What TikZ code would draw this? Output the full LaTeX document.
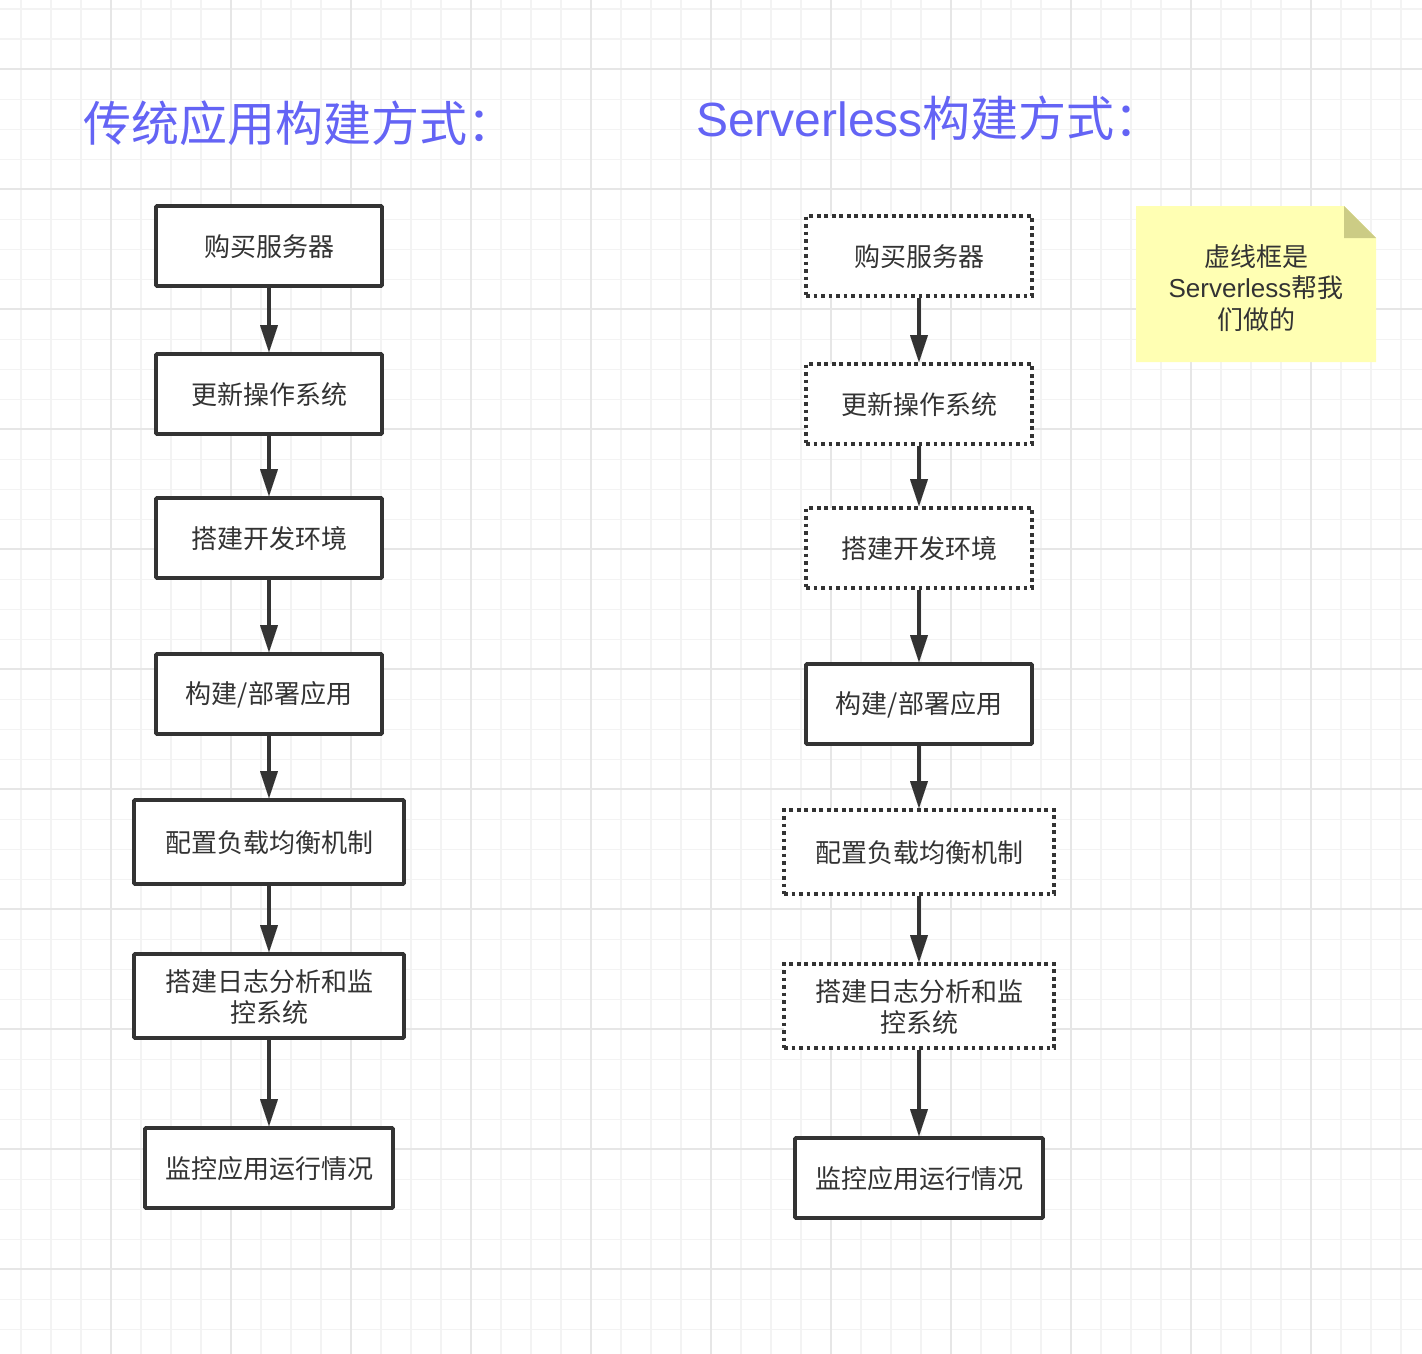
\documentclass[tikz,border=0pt]{standalone}
\usepackage{fontspec}
\setmainfont{Noto Sans CJK SC}
\newfontfamily\lat{Liberation Sans}
\usetikzlibrary{arrows.meta}
\definecolor{ink}{HTML}{333333}
\definecolor{titleblue}{HTML}{6464F5}
\definecolor{gridminor}{HTML}{F3F3F3}
\definecolor{gridmajor}{HTML}{E6E6E6}
\definecolor{notefill}{HTML}{FFFFB3}
\definecolor{notefold}{HTML}{CCCC85}
\newcommand\lstr{\rule[-2pt]{0pt}{26pt}}
\begin{document}
\begin{tikzpicture}[x=1pt,y=-1pt,
  box/.style={draw=ink, line width=3.8pt, fill=white, rounded corners=1pt,
    inner sep=0pt, text=ink, font=\fontsize{26}{31.2}\selectfont, align=center,
    minimum height=80pt},
  dotbox/.style={box, dash pattern=on 3.6pt off 3.9pt, rounded corners=0pt},
  flow/.style={draw=ink, line width=3.6pt, -{Triangle[width=18pt,length=27pt,line width=0.01pt]}},
  title/.style={anchor=base west, inner sep=0pt, text=titleblue, font=\fontsize{48}{58}\selectfont},
  notetext/.style={inner sep=0pt, text=ink, font=\fontsize{26}{31.2}\selectfont, align=center},
  minorline/.style={draw=gridminor, line width=1.6pt},
  majorline/.style={draw=gridmajor, line width=1.8pt}
]
\useasboundingbox (0,0) rectangle (1422,1354);
\fill[white] (0,0) rectangle (1422,1354);
% grid
\foreach \i in {0,...,47} \draw[minorline] ({20.7+30*\i},0) -- ++(0,1354);
\foreach \i in {0,...,45} \draw[minorline] (0,{9.3+30*\i}) -- ++(1422,0);
\foreach \i in {0,...,10} \draw[majorline] ({110.7+120*\i},0) -- ++(0,1354);
\foreach \i in {0,...,10} \draw[majorline] (0,{69.3+120*\i}) -- ++(1422,0);

% titles
\node[title] (t1) at (83,141) {传统应用构建方式：};
\node[title] (t2) at (696,136) {{\lat Serverless}构建方式：};

% left column
\node[box, minimum width=226pt] (l1) at (269,246) {\lstr 购买服务器};
\node[box, minimum width=226pt] (l2) at (269,394) {\lstr 更新操作系统};
\node[box, minimum width=226pt] (l3) at (269,538) {\lstr 搭建开发环境};
\node[box, minimum width=226pt] (l4) at (269,694) {\lstr 构建/部署应用};
\node[box, minimum width=270pt, minimum height=84pt] (l5) at (269,842) {\lstr 配置负载均衡机制};
\node[box, minimum width=270pt, minimum height=84pt] (l6) at (269,996) {\lstr 搭建日志分析和监\\\lstr 控系统};
\node[box, minimum width=248pt] (l7) at (269,1168) {\lstr 监控应用运行情况};

% right column
\node[dotbox, minimum width=226pt] (r1) at (919,256) {\lstr 购买服务器};
\node[dotbox, minimum width=226pt] (r2) at (919,404) {\lstr 更新操作系统};
\node[dotbox, minimum width=226pt] (r3) at (919,548) {\lstr 搭建开发环境};
\node[box, minimum width=226pt] (r4) at (919,704) {\lstr 构建/部署应用};
\node[dotbox, minimum width=270pt, minimum height=84pt] (r5) at (919,852) {\lstr 配置负载均衡机制};
\node[dotbox, minimum width=270pt, minimum height=84pt] (r6) at (919,1006) {\lstr 搭建日志分析和监\\\lstr 控系统};
\node[box, minimum width=248pt] (r7) at (919,1178) {\lstr 监控应用运行情况};

% connectors
\foreach \a/\b in {l1/l2,l2/l3,l3/l4,l4/l5,l5/l6,l6/l7,r1/r2,r2/r3,r3/r4,r4/r5,r5/r6,r6/r7}
  \draw[flow] (\a.south) -- (\b.north);

% note
\fill[notefill] (1136,206) -- (1344,206) -- (1376,238) -- (1376,362) -- (1136,362) -- cycle;
\fill[notefold] (1344,206) -- (1344,238) -- (1376,238) -- cycle;
\node[notetext] (note) at (1256,287) {\lstr 虚线框是\\\lstr{\lat Serverless}帮我\\\lstr 们做的};
\end{tikzpicture}
\end{document}
